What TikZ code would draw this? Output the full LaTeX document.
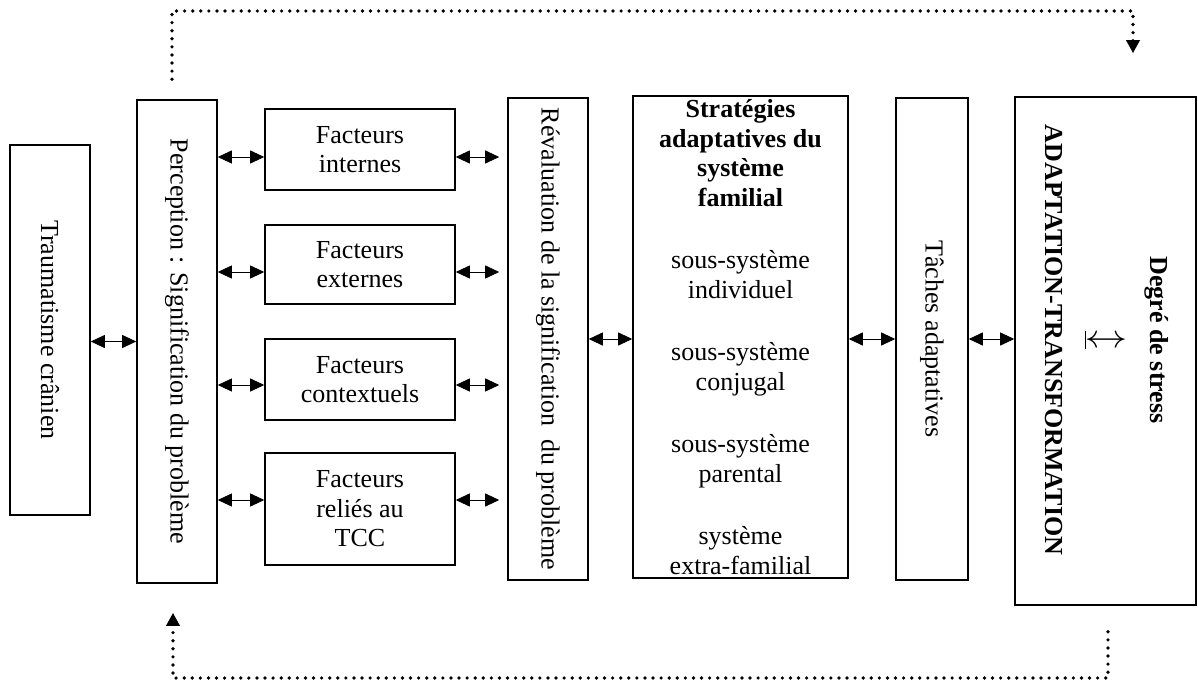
\documentclass[tikz,border=0pt]{standalone}
\usepackage{fontspec}
\setmainfont{Liberation Serif}
\usetikzlibrary{arrows.meta,calc}

\tikzset{
  box/.style={draw, line width=0.9pt, inner sep=0pt, align=center},
  vtext/.style={rotate=-90, align=center},
  dbl/.style={{Triangle[length=0.28cm,width=0.26cm]}-{Triangle[length=0.28cm,width=0.26cm]}, line width=0.5pt},
  retour/.style={-{Triangle[length=0.26cm,width=0.26cm]}, line width=2.1pt, line cap=round, dash pattern=on 0pt off 4.6pt},
}

\begin{document}
\begin{tikzpicture}[font=\fontsize{14.8}{16.8}\selectfont]
  \useasboundingbox (0,0) rectangle (23.96,13.64);

  % Boites verticales
  \node[box, minimum width=1.6cm, minimum height=7.4cm,
        label={[vtext]center:{Traumatisme crânien}}] (trauma) at (1.0,7.04) {};
  \node[box, minimum width=1.6cm, minimum height=9.66cm,
        label={[vtext]center:{Perception : Signification du problème}}] (perc) at (3.54,6.81) {};
  \node[box, minimum width=1.6cm, minimum height=9.64cm,
        label={[vtext]center:{Révaluation de la signification~ du problème}}] (reval) at (10.96,6.86) {};
  \node[box, minimum width=4.3cm, minimum height=9.64cm] (strat) at (14.81,6.9)
    {\textbf{Stratégies}\\ \textbf{adaptatives du}\\ \textbf{système}\\ \textbf{familial}\\[0.66cm]
     sous-système\\ individuel\\[0.66cm]
     sous-système\\ conjugal\\[0.66cm]
     sous-système\\ parental\\[0.66cm]
     système\\ extra-familial};
  \node[box, minimum width=1.44cm, minimum height=9.64cm,
        label={[vtext]center:{Tâches adaptatives}}] (taches) at (18.64,6.86) {};
  \node[box, minimum width=3.62cm, minimum height=10.16cm] (adapt) at (22.11,6.62) {};
  \node[vtext, font=\bfseries\fontsize{14.8}{16.8}\selectfont] (adtxt) at (22.14,6.84)
    {Degré de stress\\[0.38cm] {\mdseries\huge$\underline{\updownarrow}$}\\[0.4cm] ADAPTATION-TRANSFORMATION};

  % Facteurs
  \node[box, minimum width=3.8cm, minimum height=1.62cm] (fint) at (7.2,10.65) {Facteurs\\ internes};
  \node[box, minimum width=3.8cm, minimum height=1.58cm] (fext) at (7.2,8.35) {Facteurs\\ externes};
  \node[box, minimum width=3.8cm, minimum height=1.62cm] (fctx) at (7.2,6.05) {Facteurs\\ contextuels};
  \node[box, minimum width=3.8cm, minimum height=2.24cm] (ftcc) at (7.2,3.46) {Facteurs\\ reliés au\\ TCC};

  % Liens
  \draw[dbl] (perc.west -| trauma.east) -- (perc.west);
  \foreach \f/\d in {fint/-0.15, fext/-0.15, fctx/-0.11, ftcc/0.18} {
    \coordinate (g\f) at ($(\f.west)+(0,\d)$);
    \coordinate (d\f) at ($(\f.east)+(0,\d)$);
    \coordinate (r\f) at ($(d\f -| reval.west)+(-0.16,0)$);
    \draw[dbl] (perc.east |- g\f) -- (g\f);
    \draw[dbl] (d\f) -- (r\f);
  }
  \draw[dbl] (reval.east) -- (strat.west |- reval.east);
  \draw[dbl] (strat.east |- taches.west) -- (taches.west);
  \draw[dbl] (taches.east) -- (taches.east -| adapt.west);

  % Retours
  \coordinate (hautD) at ($(perc.north)+(-0.1,0.4)$);
  \coordinate (hautF) at ($(adapt.north)+(0.55,0.86)$);
  \draw[retour] (hautD) -- (hautD |- 0,13.42) -| (hautF);
  \coordinate (basD) at ($(adapt.south)+(0.05,-0.52)$);
  \coordinate (basF) at ($(perc.south)+(-0.08,-0.58)$);
  \draw[retour] (basD) -- (basD |- 0,0.08) -| (basF);
\end{tikzpicture}
\end{document}
